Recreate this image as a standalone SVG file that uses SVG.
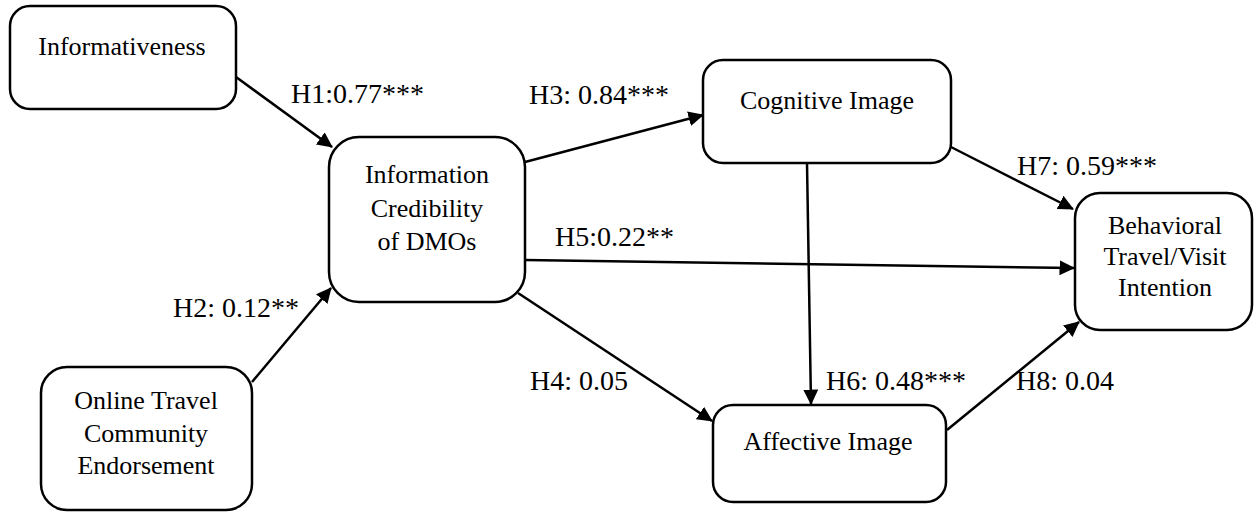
<svg xmlns="http://www.w3.org/2000/svg" width="1254" height="512" viewBox="0 0 1254 512" font-family="Liberation Serif, Times New Roman, serif">
  <style>
    .box { fill: #ffffff; stroke: #000000; stroke-width: 2.5; }
    text { font-family: 'Liberation Serif', 'Times New Roman', Times, serif; fill: #000000; }
    .node-text { font-size: 26px; text-anchor: middle; }
    .label { font-size: 28px; }
    .edge { stroke: #000000; stroke-width: 2.5; fill: none; marker-end: url(#arrow); }
  </style>
  <defs>
    <marker id="arrow" markerUnits="userSpaceOnUse" markerWidth="17" markerHeight="16" refX="14.5" refY="7.5" orient="auto">
      <path d="M0,0 L15.5,7.5 L0,15 z" fill="#000000"/>
    </marker>
  </defs>
  <rect x="0" y="0" width="1254" height="512" fill="#ffffff"/>

  <!-- connectors -->
  <g id="connectors">
    <line class="edge" x1="236" y1="77" x2="332" y2="147"/>
    <line class="edge" x1="252" y1="382" x2="331" y2="288"/>
    <line class="edge" x1="525" y1="162" x2="703" y2="115"/>
    <line class="edge" x1="525" y1="260" x2="1074" y2="268"/>
    <line class="edge" x1="518" y1="293" x2="712" y2="421"/>
    <line class="edge" x1="807" y1="163" x2="811" y2="404"/>
    <line class="edge" x1="951" y1="147" x2="1073" y2="209"/>
    <line class="edge" x1="947" y1="430" x2="1079" y2="322"/>
  </g>

  <!-- path coefficients -->
  <g id="labels">
    <text class="label" x="291" y="103">H1:0.77***</text>
    <text class="label" x="529" y="104">H3: 0.84***</text>
    <text class="label" x="1017" y="175">H7: 0.59***</text>
    <text class="label" x="555" y="246">H5:0.22**</text>
    <text class="label" x="173" y="317">H2: 0.12**</text>
    <text class="label" x="530" y="390">H4: 0.05</text>
    <text class="label" x="826" y="390">H6: 0.48***</text>
    <text class="label" x="1016" y="390">H8: 0.04</text>
  </g>

  <g id="informativeness">
    <rect class="box" x="10" y="6" width="226" height="103" rx="20" ry="20"/>
    <text class="node-text" x="122" y="55">Informativeness</text>
  </g>

  <g id="information-credibility">
    <rect class="box" x="329" y="137" width="196" height="165" rx="30" ry="30"/>
    <text class="node-text" x="427" y="183">Information</text>
    <text class="node-text" x="427" y="217">Credibility</text>
    <text class="node-text" x="427" y="250">of DMOs</text>
  </g>

  <g id="online-travel-community">
    <rect class="box" x="41" y="367" width="211" height="143" rx="26" ry="26"/>
    <text class="node-text" x="146" y="409">Online Travel</text>
    <text class="node-text" x="146" y="442">Community</text>
    <text class="node-text" x="146" y="474">Endorsement</text>
  </g>

  <g id="cognitive-image">
    <rect class="box" x="703" y="60" width="248" height="103" rx="20" ry="20"/>
    <text class="node-text" x="827" y="109">Cognitive Image</text>
  </g>

  <g id="affective-image">
    <rect class="box" x="713" y="405" width="233" height="97" rx="20" ry="20"/>
    <text class="node-text" x="828" y="450">Affective Image</text>
  </g>

  <g id="behavioral-intention">
    <rect class="box" x="1075" y="193" width="177" height="137" rx="25" ry="25"/>
    <text class="node-text" x="1165" y="234">Behavioral</text>
    <text class="node-text" x="1165" y="265">Travel/Visit</text>
    <text class="node-text" x="1165" y="296">Intention</text>
  </g>
</svg>
